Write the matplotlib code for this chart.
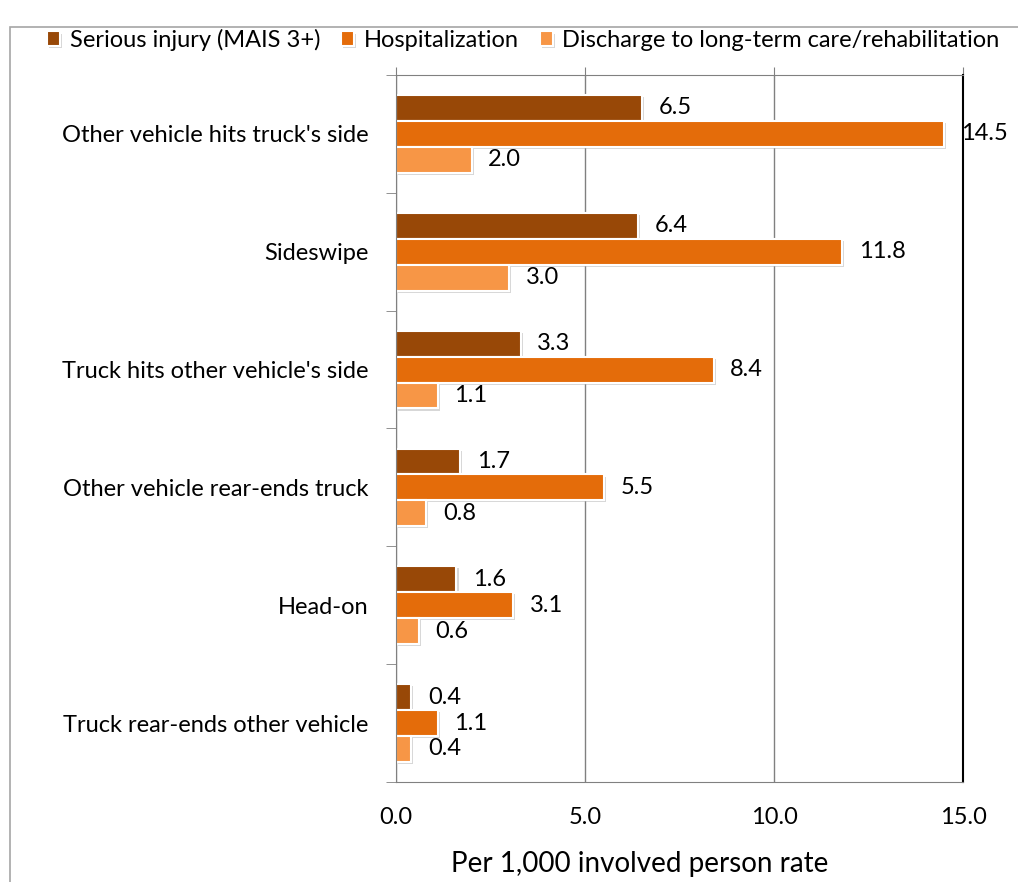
import numpy as np
import matplotlib as mpl
mpl.use('Agg')
import matplotlib.pyplot as plt
import matplotlib.patheffects as pe
from matplotlib.patches import Rectangle

plt.rcParams['font.family'] = ['Lato', 'DejaVu Sans']

# data, top to bottom as shown in the chart
categories = ["Other vehicle hits truck's side", "Sideswipe",
              "Truck hits other vehicle's side", "Other vehicle rear-ends truck",
              "Head-on", "Truck rear-ends other vehicle"]
series_names = ["Serious injury (MAIS 3+)", "Hospitalization",
                "Discharge to long-term care/rehabilitation"]
serious = [6.5, 6.4, 3.3, 1.7, 1.6, 0.4]
hospital = [14.5, 11.8, 8.4, 5.5, 3.1, 1.1]
discharge = [2.0, 3.0, 1.1, 0.8, 0.6, 0.4]
colors = ['#984807', '#E46C0A', '#F79646']
xticks = [0.0, 5.0, 10.0, 15.0]

fs = 17

fig = plt.figure(figsize=(10.18, 8.82), dpi=100)
# outer chart border
fig.patches.append(Rectangle((10 / 1018, -0.1), 1.2, 1 - 27 / 882 + 0.1,
                             transform=fig.transFigure, fill=False,
                             edgecolor='#a6a6a6', linewidth=1.2))

ax = fig.add_axes([0.389, 0.1134, 0.557, 0.8016])

n = len(categories)
y = np.arange(n)
h = 0.22
shadow = [pe.SimplePatchShadow(offset=(1.5, -1.5), shadow_rgbFace='#b0b0b0', alpha=0.5),
          pe.Normal()]
for i, (vals, name, c) in enumerate(zip([serious, hospital, discharge], series_names, colors)):
    pos = y + (i - 1) * h
    bars = ax.barh(pos, vals, height=h, color=c, edgecolor='white',
                   linewidth=1.5, label=name)
    for b in bars:
        b.set_path_effects(shadow)
    for p, v in zip(pos, vals):
        ax.annotate(f"{v:.1f}", (v, p), xytext=(12, 0), textcoords='offset points',
                    va='center', ha='left', fontsize=fs)

ax.set_ylim(n - 0.5, -0.5)
ax.set_xlim(0, 15)
ax.set_yticks(y)
ax.set_yticklabels(categories, fontsize=fs)
ax.set_yticks(np.arange(n + 1) - 0.5, minor=True)
ax.tick_params(axis='y', which='major', length=0, pad=20)
ax.tick_params(axis='y', which='minor', length=7, color='#808080', direction='out')

ax.set_xticks(xticks)
ax.set_xticklabels([f"{t:.1f}" for t in xticks], fontsize=fs)
ax.xaxis.set_ticks_position('top')
ax.xaxis.set_label_position('bottom')
ax.tick_params(axis='x', length=6, direction='out', color='#808080',
               labeltop=False, labelbottom=True, pad=12)
ax.set_xlabel("Per 1,000 involved person rate", fontsize=20)
ax.xaxis.set_label_coords(0.429, -0.098)

ax.grid(axis='x', color='#808080', linewidth=1)
ax.set_axisbelow(True)
for s in ['left', 'top', 'bottom']:
    ax.spines[s].set_color('#808080')
ax.spines['right'].set_color('black')
ax.spines['right'].set_linewidth(1.5)

fig.legend(loc='upper left', bbox_to_anchor=(0.037, 0.978), ncol=3, frameon=False,
           fontsize=fs, handlelength=0.55, handleheight=0.55, handletextpad=0.4,
           columnspacing=0.9, borderaxespad=0)

fig.savefig('out.png', dpi=100)
